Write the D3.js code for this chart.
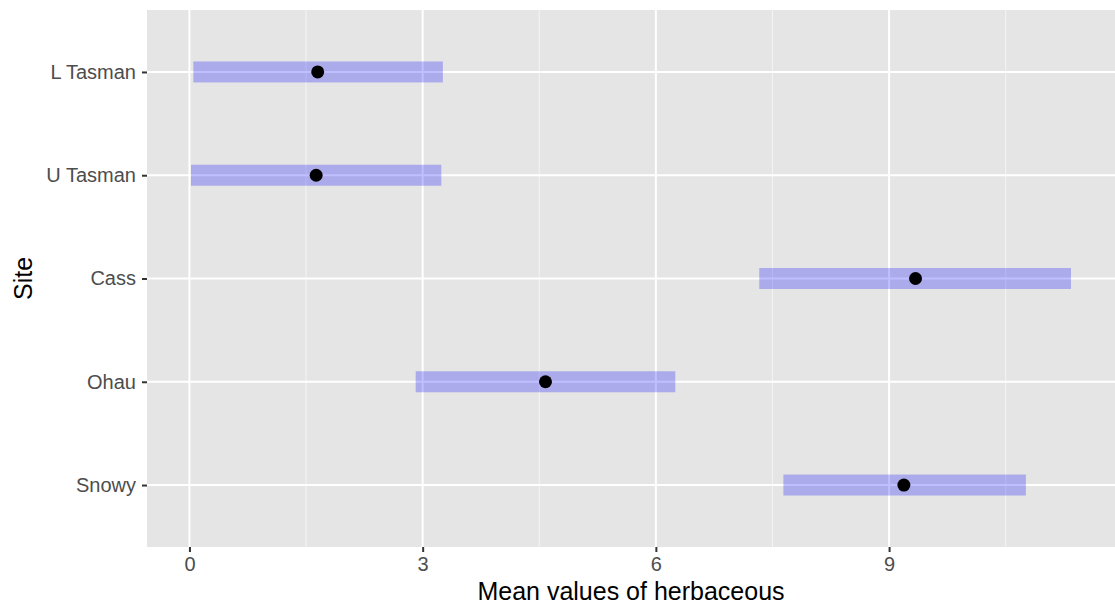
<!DOCTYPE html>
<html>
<head>
<meta charset="utf-8">
<script src="https://cdn.jsdelivr.net/npm/d3@7"></script>
<style>
  html, body { margin: 0; padding: 0; background: #ffffff; }
  svg { display: block; font-family: "Liberation Sans", Arial, Helvetica, sans-serif; }
</style>
</head>
<body>
<svg id="chart" width="1115" height="612"></svg>
<script>
// Sites, top to bottom
const sites = ["L Tasman", "U Tasman", "Cass", "Ohau", "Snowy"];
// Mean herbaceous value per site
const means = [1.65, 1.63, 9.34, 4.58, 9.19];
// Interval lower / upper bounds per site
const lows  = [0.05, 0.02, 7.33, 2.91, 7.64];
const highs = [3.26, 3.24, 11.34, 6.25, 10.76];
// Axis ticks
const xTicks = [0, 3, 6, 9];
const xMinor = [1.5, 4.5, 7.5, 10.5];

const rows = sites.map((s, i) => ({ site: s, mean: means[i], lo: lows[i], hi: highs[i] }));

const svg = d3.select("#chart");
const panel = { left: 147, right: 1115, top: 10, bottom: 547 };

// x domain: data extent with 5% expansion on each side
const dMin = d3.min(lows), dMax = d3.max(highs);
const pad = (dMax - dMin) * 0.05;
const x = d3.scaleLinear().domain([dMin - pad, dMax + pad]).range([panel.left, panel.right]);
const y = d3.scalePoint().domain(sites).range([panel.top, panel.bottom]).padding(0.6);

// panel background
svg.append("rect")
  .attr("x", panel.left).attr("y", panel.top)
  .attr("width", panel.right - panel.left).attr("height", panel.bottom - panel.top)
  .attr("fill", "#e5e5e5");

const grid = svg.append("g");
// minor vertical grid
grid.selectAll("line.minor").data(xMinor).join("line")
  .attr("class", "minor")
  .attr("x1", d => x(d)).attr("x2", d => x(d))
  .attr("y1", panel.top).attr("y2", panel.bottom)
  .attr("stroke", "#f4f4f4").attr("stroke-width", 1);
// major vertical grid
grid.selectAll("line.majx").data(xTicks).join("line")
  .attr("class", "majx")
  .attr("x1", d => x(d)).attr("x2", d => x(d))
  .attr("y1", panel.top).attr("y2", panel.bottom)
  .attr("stroke", "#ffffff").attr("stroke-width", 2);
// major horizontal grid
grid.selectAll("line.majy").data(sites).join("line")
  .attr("class", "majy")
  .attr("x1", panel.left).attr("x2", panel.right)
  .attr("y1", d => y(d)).attr("y2", d => y(d))
  .attr("stroke", "#ffffff").attr("stroke-width", 2);

// interval ranges (translucent blue)
svg.append("g").selectAll("rect").data(rows).join("rect")
  .attr("x", d => x(d.lo))
  .attr("width", d => x(d.hi) - x(d.lo))
  .attr("y", d => y(d.site) - 10.5)
  .attr("height", 21)
  .attr("fill", "#0000ff")
  .attr("fill-opacity", 0.25);

// mean points
svg.append("g").selectAll("circle").data(rows).join("circle")
  .attr("cx", d => x(d.mean))
  .attr("cy", d => y(d.site))
  .attr("r", 6.5)
  .attr("fill", "#000000");

// x axis
const xAxis = svg.append("g")
  .attr("transform", `translate(0,${panel.bottom})`)
  .call(d3.axisBottom(x).tickValues(xTicks).tickSize(5).tickPadding(5).tickFormat(d3.format("d")));
xAxis.select(".domain").remove();
xAxis.selectAll(".tick line").attr("stroke", "#333333").attr("stroke-width", 2);
xAxis.selectAll(".tick text").attr("fill", "#4d4d4d").style("font-size", "20px")
  .style("font-family", "'Liberation Sans', Arial, sans-serif");

// y axis
const yAxis = svg.append("g")
  .attr("transform", `translate(${panel.left},0)`)
  .call(d3.axisLeft(y).tickSize(5).tickPadding(6));
yAxis.select(".domain").remove();
yAxis.selectAll(".tick line").attr("stroke", "#333333").attr("stroke-width", 2);
yAxis.selectAll(".tick text").attr("fill", "#4d4d4d").style("font-size", "20px")
  .style("font-family", "'Liberation Sans', Arial, sans-serif");

// axis titles
svg.append("text")
  .attr("x", (panel.left + panel.right) / 2).attr("y", 600)
  .attr("text-anchor", "middle")
  .attr("fill", "#000000").style("font-size", "25px")
  .text("Mean values of herbaceous");

svg.append("text")
  .attr("transform", `translate(32,${(panel.top + panel.bottom) / 2}) rotate(-90)`)
  .attr("text-anchor", "middle")
  .attr("fill", "#000000").style("font-size", "25px")
  .text("Site");
</script>
</body>
</html>
